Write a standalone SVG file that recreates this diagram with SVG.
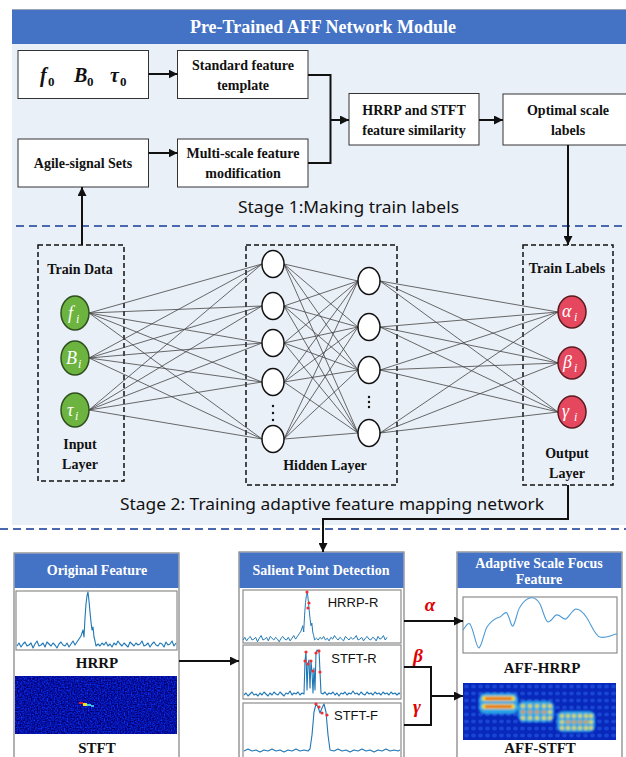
<svg xmlns="http://www.w3.org/2000/svg" xmlns:xlink="http://www.w3.org/1999/xlink" width="626" height="757" viewBox="0 0 626 757">
<style>
.bx{fill:#fff;stroke:#333;stroke-width:1}
.t{font-family:'Liberation Serif','Times New Roman',serif;font-weight:bold;font-size:14px;fill:#111;text-anchor:middle}
.tw{font-family:'Liberation Serif','Times New Roman',serif;font-weight:bold;font-size:14px;fill:#fff;text-anchor:middle}
.st{font-family:'Noto Sans','Open Sans',sans-serif;font-size:17px;fill:#111}
.dash{fill:none;stroke:#111;stroke-width:1.5;stroke-dasharray:5 3}
.sep{fill:none;stroke:#4A68AE;stroke-width:2;stroke-dasharray:8 5}
.con{fill:none;stroke:#111;stroke-width:2}
.net{fill:none;stroke:#444;stroke-width:0.8}
.hn{fill:#fff;stroke:#111;stroke-width:1.5}
.gn{fill:#6CB33F;stroke:#2F4F1F;stroke-width:1.5}
.rn{fill:#E5485E;stroke:#5A1A20;stroke-width:1.5}
.m{font-family:'Liberation Serif','Times New Roman',serif;font-style:italic;font-weight:bold;font-size:20px;fill:#111}
.ms{font-family:'Liberation Serif','Times New Roman',serif;font-weight:bold;font-size:13px;fill:#111}
.nl{font-family:'Liberation Serif','Times New Roman',serif;font-style:italic;font-size:18px;fill:#fff}
.ns{font-family:'Liberation Serif','Times New Roman',serif;font-style:italic;font-size:12px;fill:#fff}
.panel{fill:#fff;stroke:#7F7F7F;stroke-width:1.2}
.hd{fill:#4472C4}
.plot{fill:#fff;stroke:#8C8C8C;stroke-width:1.2}
.sig{fill:none;stroke:#1F77B4;stroke-width:1.1;stroke-linejoin:round}
.pl{font-family:'Liberation Sans',Arial,sans-serif;font-size:13px;fill:#111;text-anchor:middle}
.gr{font-family:'Liberation Serif','Times New Roman',serif;font-style:italic;font-weight:bold;font-size:19px;fill:#E00000;text-anchor:middle}
.rd{fill:#F03030}
</style>
<defs>
<marker id="ah" markerWidth="9" markerHeight="9" refX="9" refY="4.5" orient="auto" markerUnits="userSpaceOnUse"><path d="M0,0 L9,4.5 L0,9 z" fill="#111"/></marker>
<filter id="spk" x="0" y="0" width="100%" height="100%" color-interpolation-filters="sRGB">
<feTurbulence type="fractalNoise" baseFrequency="0.7" numOctaves="1" seed="4" result="t"/>
<feColorMatrix in="t" type="matrix" values="0 0 0 0 0.02  0.5 0 0 0 -0.18  1.2 0 0 0 0.05  0 0 0 0 1"/>
</filter>
<filter id="soft" x="-10%" y="-20%" width="120%" height="140%"><feGaussianBlur stdDeviation="0.9"/></filter>
<pattern id="rip" x="463" y="683" width="7" height="7" patternUnits="userSpaceOnUse">
<rect width="7" height="7" fill="#0828BC"/>
<ellipse cx="3.5" cy="3.5" rx="2.4" ry="2" fill="#1845D2"/>
</pattern>
<polyline id="hrrp" fill="none" stroke="#1F77B4" stroke-width="1.1" stroke-linejoin="round" points="0,0 2,-3 4,1 6,-2 8,-4 10,0 12,-1 14,-3 16,2 18,-2 20,-5 22,0 24,-1 26,-3 28,1 30,-4 32,-2 34,0 36,-3 38,-1 40,2 42,-2 44,-4 46,-1 48,0 50,-3 52,1 54,-2 56,-5 58,-1 60,-4 62,-7 64,-10 66,-16 67,-9 68,-28 69,-42 70,-50 71,-54 72,-45 73,-34 74,-24 75,-16 76,-19 77,-9 78,-5 79,0 81,-2 83,0 85,-3 87,-1 89,-4 91,0 93,-2 95,1 97,-3 99,-1 101,-5 103,-2 105,0 107,-3 109,-1 111,1 113,-4 115,-2 117,0 119,-3 121,-1 123,-2 125,-5 127,0 129,-1 131,-3 133,1 135,-2 137,-4 139,-1 141,0 143,-3 145,-2 147,1 149,-4 151,-1 153,-2 155,-5 157,0 159,-3"/>
</defs>

<!-- Stage background -->
<rect x="12" y="9" width="614" height="516" fill="#EAF0F8"/>
<g id="header">
<rect x="12" y="9" width="614" height="35" fill="#4472C4"/>
<line x1="12" y1="9.5" x2="626" y2="9.5" stroke="#9AA4B8" stroke-width="1"/>
<text x="323" y="33" class="tw" style="font-size:18px">Pre-Trained AFF Network Module</text>
</g>
<line class="sep" x1="16" y1="226" x2="626" y2="226"/>
<line class="sep" x1="0" y1="529" x2="626" y2="529"/>
<text class="st" x="238" y="213" textLength="221" lengthAdjust="spacingAndGlyphs">Stage 1:Making train labels</text>
<text class="st" x="120" y="510" textLength="424" lengthAdjust="spacingAndGlyphs">Stage 2: Training adaptive feature mapping network</text>

<!-- Stage 1 boxes -->
<g id="params">
<rect class="bx" x="18" y="50.5" width="130.5" height="48"/>
<text x="40" y="82" class="m">f</text><text x="48" y="86" class="ms">0</text>
<text x="74" y="82" class="m">B</text><text x="87" y="86" class="ms">0</text>
<text x="110" y="82" class="m">τ</text><text x="120" y="86" class="ms">0</text>
</g>
<g id="std-template">
<rect class="bx" x="177.5" y="50.5" width="130.5" height="48"/>
<text class="t" x="243" y="70">Standard feature</text>
<text class="t" x="243" y="90">template</text>
</g>
<g id="agile-sets">
<rect class="bx" x="18" y="139" width="130.5" height="48"/>
<text class="t" x="83" y="168">Agile-signal Sets</text>
</g>
<g id="multi-scale">
<rect class="bx" x="177.5" y="139" width="130.5" height="48"/>
<text class="t" x="243" y="158">Multi-scale feature</text>
<text class="t" x="243" y="178">modification</text>
</g>
<g id="similarity">
<rect class="bx" x="349" y="93.5" width="130" height="51.5"/>
<text class="t" x="414" y="115">HRRP and STFT</text>
<text class="t" x="414" y="135">feature similarity</text>
</g>
<g id="optimal-labels">
<rect class="bx" x="503" y="94" width="140" height="51"/>
<text class="t" x="568" y="115">Optimal scale</text>
<text class="t" x="568" y="135">labels</text>
</g>

<!-- Network -->
<g id="input-layer">
<rect class="dash" x="38" y="245" width="86" height="236"/>
<text class="t" x="80" y="274">Train Data</text>
<text class="t" x="80" y="449">Input</text>
<text class="t" x="80" y="469">Layer</text>
</g>
<g id="hidden-layer">
<rect class="dash" x="246" y="245" width="151" height="240"/>
<text class="t" x="325" y="470">Hidden Layer</text>
</g>
<g id="output-layer">
<rect class="dash" x="523" y="245" width="90" height="240"/>
<text class="t" x="567" y="273">Train Labels</text>
<text class="t" x="567" y="458">Output</text>
<text class="t" x="567" y="478">Layer</text>
</g>

<g id="net-links">
<path class="net" d="M89,313L262,264M89,313L262,306M89,313L262,343M89,313L262,382M89,313L262,439M89,358L262,264M89,358L262,306M89,358L262,343M89,358L262,382M89,358L262,439M89,410L262,264M89,410L262,306M89,410L262,343M89,410L262,382M89,410L262,439
M284,264L358,281M284,264L358,327M284,264L358,370M284,264L358,433M284,306L358,281M284,306L358,327M284,306L358,370M284,306L358,433M284,343L358,281M284,343L358,327M284,343L358,370M284,343L358,433M284,382L358,281M284,382L358,327M284,382L358,370M284,382L358,433M284,439L358,281M284,439L358,327M284,439L358,370M284,439L358,433
M380,281L558,312M380,281L558,363M380,281L558,412M380,327L558,312M380,327L558,363M380,327L558,412M380,370L558,312M380,370L558,363M380,370L558,412M380,433L558,312M380,433L558,363M380,433L558,412"/>
</g>

<g id="in-f"><ellipse class="gn" cx="75" cy="313" rx="14" ry="17"/><text class="nl" x="68" y="319">f</text><text class="ns" x="76" y="323">i</text></g>
<g id="in-B"><ellipse class="gn" cx="75" cy="358" rx="14" ry="17"/><text class="nl" x="66" y="364">B</text><text class="ns" x="78" y="368">i</text></g>
<g id="in-tau"><ellipse class="gn" cx="75" cy="410" rx="14" ry="17"/><text class="nl" x="67" y="416">τ</text><text class="ns" x="75" y="420">i</text></g>

<g id="h1-1"><ellipse class="hn" cx="273" cy="264" rx="11" ry="13.5"/></g>
<g id="h1-2"><ellipse class="hn" cx="273" cy="306" rx="11" ry="13.5"/></g>
<g id="h1-3"><ellipse class="hn" cx="273" cy="343" rx="11" ry="13.5"/></g>
<g id="h1-4"><ellipse class="hn" cx="273" cy="382" rx="11" ry="13.5"/></g>
<g id="h1-5"><ellipse class="hn" cx="273" cy="439" rx="11" ry="13.5"/></g>
<g id="h1-dots" fill="#111"><circle cx="273" cy="406" r="1.2"/><circle cx="273" cy="413" r="1.2"/><circle cx="273" cy="420" r="1.2"/></g>
<g id="h2-1"><ellipse class="hn" cx="369" cy="281" rx="11" ry="13.5"/></g>
<g id="h2-2"><ellipse class="hn" cx="369" cy="327" rx="11" ry="13.5"/></g>
<g id="h2-3"><ellipse class="hn" cx="369" cy="370" rx="11" ry="13.5"/></g>
<g id="h2-4"><ellipse class="hn" cx="369" cy="433" rx="11" ry="13.5"/></g>
<g id="h2-dots" fill="#111"><circle cx="369" cy="397" r="1.2"/><circle cx="369" cy="402" r="1.2"/><circle cx="369" cy="407" r="1.2"/></g>

<g id="out-alpha"><ellipse class="rn" cx="572" cy="312" rx="14" ry="16"/><text class="nl" x="562" y="317">α</text><text class="ns" x="574" y="321">i</text></g>
<g id="out-beta"><ellipse class="rn" cx="572" cy="363" rx="14" ry="16"/><text class="nl" x="563" y="368">β</text><text class="ns" x="574" y="372">i</text></g>
<g id="out-gamma"><ellipse class="rn" cx="572" cy="412" rx="14" ry="16"/><text class="nl" x="562" y="417">γ</text><text class="ns" x="574" y="421">i</text></g>

<!-- Bottom panels -->
<g id="original-feature">
<rect class="panel" x="14" y="553" width="165" height="210"/>
<rect class="hd" x="14.6" y="553.6" width="163.8" height="34.4"/>
<text class="tw" x="97" y="575">Original Feature</text>
<rect class="plot" x="16" y="591" width="161" height="59"/>
<use xlink:href="#hrrp" href="#hrrp" transform="translate(17,646)"/>
<text class="t" x="97" y="668" style="font-size:15px">HRRP</text>
<rect x="15" y="676" width="162" height="58" fill="#0A10A0" filter="url(#spk)"/>
<rect x="79" y="702" width="4" height="2" fill="#E02020"/>
<rect x="83" y="703" width="4" height="3" fill="#F0E020"/>
<rect x="87" y="704" width="4" height="2" fill="#30D0F0"/>
<rect x="91" y="705" width="3" height="2" fill="#40B0F0"/>
<text class="t" x="97" y="753" style="font-size:15px">STFT</text>
</g>

<g id="salient-detection">
<rect class="panel" x="239" y="552" width="165" height="210"/>
<rect class="hd" x="239.6" y="552.6" width="163.8" height="35.4"/>
<text class="tw" x="321" y="575">Salient Point Detection</text>
<rect class="plot" x="243" y="590" width="158" height="53"/>
<use xlink:href="#hrrp" href="#hrrp" transform="translate(243,640) scale(0.906,0.89)"/>
<circle class="rd" cx="307" cy="592" r="1.6"/><circle class="rd" cx="309" cy="603" r="1.6"/><circle class="rd" cx="308" cy="608" r="1.6"/>
<text class="pl" x="353" y="607">HRRP-R</text>
<rect class="plot" x="243" y="645" width="158" height="54"/>
<polyline class="sig" points="244,695 246,693 248,696 250,694 252,692 254,695 256,694 258,696 260,693 262,695 264,692 266,694 268,696 270,693 272,695 274,692 276,694 278,695 280,692 282,694 284,696 286,693 288,694 290,691 292,695 294,693 296,694 298,692 300,695 302,693 304,694 305,661 306,652 307,690 308,664 309,660 310,688 311,661 312,672 313,693 314,668 315,690 316,653 317,650 318,651 319,650 320,672 321,693 323,694 325,692 327,695 329,693 331,694 333,692 335,695 337,693 339,696 341,693 343,694 345,692 347,695 349,693 351,694 353,691 355,694 357,693 359,695 361,692 363,694 365,695 367,692 369,694 371,693 373,695 375,692 377,694 379,693 381,695 383,692 385,694 387,693 389,695 391,692 393,694 395,693 397,695 399,693 400,694"/>
<circle class="rd" cx="305" cy="661" r="1.6"/><circle class="rd" cx="306" cy="652" r="1.6"/><circle class="rd" cx="308" cy="664" r="1.6"/><circle class="rd" cx="311" cy="661" r="1.6"/><circle class="rd" cx="313" cy="671" r="1.6"/><circle class="rd" cx="316" cy="653" r="1.6"/><circle class="rd" cx="319" cy="651" r="1.6"/><circle class="rd" cx="320" cy="672" r="1.6"/>
<text class="pl" x="354" y="663">STFT-R</text>
<rect class="plot" x="243" y="703" width="158" height="60"/>
<polyline class="sig" points="244,751 248,749 252,751 256,750 260,752 264,750 268,751 272,749 276,751 280,750 284,752 288,750 292,751 296,749 300,751 304,750 308,751 310,749 312,735 314,712 316,704 318,707 320,713 322,708 324,704 326,712 328,735 330,750 334,751 338,749 342,751 346,750 350,752 354,750 358,751 362,749 366,751 370,750 374,752 378,750 382,751 386,749 390,751 394,750 398,751 400,750"/>
<circle class="rd" cx="316" cy="704" r="1.6"/><circle class="rd" cx="319" cy="707" r="1.6"/><circle class="rd" cx="322" cy="713" r="1.6"/><circle class="rd" cx="327" cy="715" r="1.6"/>
<text class="pl" x="356" y="720">STFT-F</text>
</g>

<g id="aff-feature">
<rect class="panel" x="457" y="552" width="165" height="210"/>
<rect class="hd" x="457.6" y="552.6" width="163.8" height="35.4"/>
<text class="tw" x="539" y="568">Adaptive Scale Focus</text>
<text class="tw" x="539" y="584">Feature</text>
<rect class="plot" x="463" y="597" width="154" height="56"/>
<path fill="none" stroke="#4C9AD6" stroke-width="1.1" d="M463,630 C466,626 468,622 470,624 C474,630 476,648 479,648 C482,646 484,632 487,627 C491,621 496,618 500,617 C503,615 505,611 507,613 C510,618 511,627 513,626 C516,622 517,611 520,607 C523,602 526,599 530,598 C534,597 537,599 540,604 C543,610 545,621 548,622 C551,622 553,617 556,615 C560,614 563,620 566,619 C569,617 572,610 576,609 C580,609 583,612 587,618 C591,624 595,636 600,637 C604,638 607,637 610,636 C613,635 615,634 617,634"/>
<text class="t" x="542" y="673" style="font-size:15px">AFF-HRRP</text>
<rect x="463" y="683" width="153" height="57" fill="url(#rip)"/>
<g filter="url(#soft)">
<rect x="479" y="693" width="39" height="21" rx="6" fill="#2FB8EE" opacity="0.85"/>
<rect x="482" y="696" width="33" height="5" rx="2" fill="#F2E21E"/>
<rect x="482" y="704" width="33" height="5" rx="2" fill="#F2E21E"/>
<rect x="485" y="697.5" width="27" height="2.2" fill="#E5301A"/>
<rect x="485" y="705.5" width="27" height="2.2" fill="#E5301A"/>
<rect x="518" y="701" width="36" height="21" rx="6" fill="#2FB8EE" opacity="0.85"/>
<g fill="#F2E21E"><circle cx="523" cy="706" r="2.1"/><circle cx="530" cy="706" r="2.1"/><circle cx="537" cy="706" r="2.1"/><circle cx="544" cy="706" r="2.1"/><circle cx="550" cy="706" r="2.1"/><circle cx="523" cy="712" r="2.1"/><circle cx="530" cy="712" r="2.1"/><circle cx="537" cy="712" r="2.1"/><circle cx="544" cy="712" r="2.1"/><circle cx="550" cy="712" r="2.1"/><circle cx="523" cy="718" r="2.1"/><circle cx="530" cy="718" r="2.1"/><circle cx="537" cy="718" r="2.1"/><circle cx="544" cy="718" r="2.1"/><circle cx="550" cy="718" r="2.1"/></g>
<g fill="#E5301A"><circle cx="530" cy="712" r="1.3"/><circle cx="537" cy="712" r="1.3"/><circle cx="544" cy="712" r="1.3"/><circle cx="523" cy="712" r="1.3"/></g>
<rect x="557" y="711" width="38" height="21" rx="6" fill="#2FB8EE" opacity="0.85"/>
<g fill="#F2E21E"><circle cx="562" cy="716" r="2"/><circle cx="568" cy="716" r="2"/><circle cx="574" cy="716" r="2"/><circle cx="580" cy="716" r="2"/><circle cx="586" cy="716" r="2"/><circle cx="591" cy="716" r="2"/><circle cx="562" cy="722" r="2"/><circle cx="568" cy="722" r="2"/><circle cx="574" cy="722" r="2"/><circle cx="580" cy="722" r="2"/><circle cx="586" cy="722" r="2"/><circle cx="591" cy="722" r="2"/><circle cx="562" cy="728" r="2"/><circle cx="568" cy="728" r="2"/><circle cx="574" cy="728" r="2"/><circle cx="580" cy="728" r="2"/><circle cx="586" cy="728" r="2"/><circle cx="591" cy="728" r="2"/></g>
<g fill="#E5301A"><circle cx="568" cy="722" r="1.2"/><circle cx="574" cy="722" r="1.2"/><circle cx="580" cy="722" r="1.2"/><circle cx="586" cy="722" r="1.2"/></g>
</g>
<text class="t" x="540" y="753" style="font-size:15px">AFF-STFT</text>
</g>

<!-- Connectors -->
<g id="connectors">
<line class="con" x1="148.5" y1="74" x2="177.5" y2="74" marker-end="url(#ah)"/>
<line class="con" x1="148.5" y1="153" x2="177.5" y2="153" marker-end="url(#ah)"/>
<polyline class="con" points="308,75 330.5,75 330.5,163 308,163"/>
<line class="con" x1="330.5" y1="120" x2="349" y2="120" marker-end="url(#ah)"/>
<line class="con" x1="479" y1="120" x2="503" y2="120" marker-end="url(#ah)"/>
<line class="con" x1="568" y1="145" x2="568" y2="245" marker-end="url(#ah)"/>
<line class="con" x1="82" y1="245" x2="82" y2="187" marker-end="url(#ah)"/>
<polyline class="con" points="568,485 568,519 323,519 323,552" marker-end="url(#ah)"/>
<line class="con" x1="179" y1="661" x2="239" y2="661" marker-end="url(#ah)"/>
<line class="con" x1="404" y1="621" x2="463" y2="621" marker-end="url(#ah)"/>
<polyline class="con" points="404,667 431,667 431,725 404,725"/>
<line class="con" x1="431" y1="696" x2="463" y2="696" marker-end="url(#ah)"/>
<text class="gr" x="430" y="611">α</text>
<text class="gr" x="418" y="662">β</text>
<text class="gr" x="417" y="713">γ</text>
</g>
</svg>
